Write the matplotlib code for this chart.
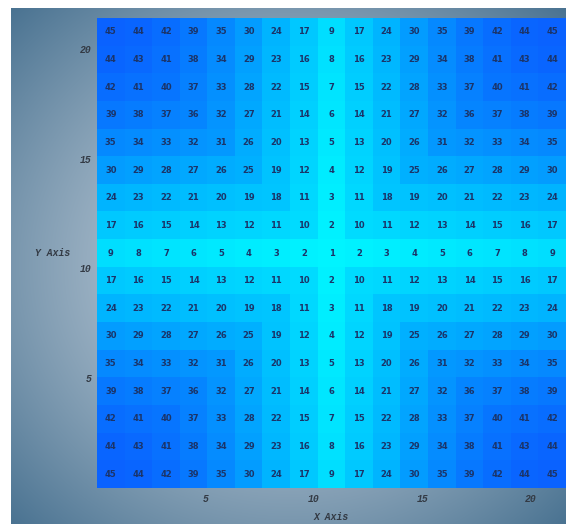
"""Heat map of a mirrored grid with the cell values written in each cell."""

import matplotlib.pyplot as plt
import numpy as np
from matplotlib.colors import LinearSegmentedColormap

# Rows listed top to bottom
grid_values = [
    [45, 44, 42, 39, 35, 30, 24, 17, 9, 17, 24, 30, 35, 39, 42, 44, 45],
    [44, 43, 41, 38, 34, 29, 23, 16, 8, 16, 23, 29, 34, 38, 41, 43, 44],
    [42, 41, 40, 37, 33, 28, 22, 15, 7, 15, 22, 28, 33, 37, 40, 41, 42],
    [39, 38, 37, 36, 32, 27, 21, 14, 6, 14, 21, 27, 32, 36, 37, 38, 39],
    [35, 34, 33, 32, 31, 26, 20, 13, 5, 13, 20, 26, 31, 32, 33, 34, 35],
    [30, 29, 28, 27, 26, 25, 19, 12, 4, 12, 19, 25, 26, 27, 28, 29, 30],
    [24, 23, 22, 21, 20, 19, 18, 11, 3, 11, 18, 19, 20, 21, 22, 23, 24],
    [17, 16, 15, 14, 13, 12, 11, 10, 2, 10, 11, 12, 13, 14, 15, 16, 17],
    [9, 8, 7, 6, 5, 4, 3, 2, 1, 2, 3, 4, 5, 6, 7, 8, 9],
    [17, 16, 15, 14, 13, 12, 11, 10, 2, 10, 11, 12, 13, 14, 15, 16, 17],
    [24, 23, 22, 21, 20, 19, 18, 11, 3, 11, 18, 19, 20, 21, 22, 23, 24],
    [30, 29, 28, 27, 26, 25, 19, 12, 4, 12, 19, 25, 26, 27, 28, 29, 30],
    [35, 34, 33, 32, 31, 26, 20, 13, 5, 13, 20, 26, 31, 32, 33, 34, 35],
    [39, 38, 37, 36, 32, 27, 21, 14, 6, 14, 21, 27, 32, 36, 37, 38, 39],
    [42, 41, 40, 37, 33, 28, 22, 15, 7, 15, 22, 28, 33, 37, 40, 41, 42],
    [44, 43, 41, 38, 34, 29, 23, 16, 8, 16, 23, 29, 34, 38, 41, 43, 44],
    [45, 44, 42, 39, 35, 30, 24, 17, 9, 17, 24, 30, 35, 39, 42, 44, 45],
]
x_ticks = [5, 10, 15, 20]
y_ticks = [5, 10, 15, 20]
x_range = (0, 21.6)
y_range = (0, 21.4)

W, H = 566, 524
fig = plt.figure(figsize=(W / 100, H / 100), dpi=100)
fig.patch.set_facecolor("white")

# radial grey-blue backdrop behind the plot
bg = fig.add_axes([11 / W, 0, 1 - 11 / W, 1 - 8 / H])
yy, xx = np.mgrid[-1:1:300j, -1:1:300j]
r = np.clip(np.sqrt(xx**2 + yy**2) / np.sqrt(2), 0, 1)
inner = np.array([0.80, 0.84, 0.88])
outer = np.array([0.29, 0.45, 0.57])
shade = inner + (outer - inner) * (r[..., None] ** 1.3)
bg.imshow(shade, aspect="auto", interpolation="bilinear")
bg.set_axis_off()

cmap = LinearSegmentedColormap.from_list(
    "cyan_blue", ["#00f4ff", "#00b8ff", "#0a62ff"]
)

ax = fig.add_axes([97 / W, 36 / H, 469 / W, 470 / H])
data = np.array(grid_values)
ax.imshow(
    data,
    cmap=cmap,
    extent=[x_range[0], x_range[1], y_range[0], y_range[1]],
    aspect="auto",
    interpolation="nearest",
    origin="upper",
)

n_rows, n_cols = data.shape
dx = (x_range[1] - x_range[0]) / n_cols
dy = (y_range[1] - y_range[0]) / n_rows
for i in range(n_rows):
    for j in range(n_cols):
        ax.text(
            x_range[0] + (j + 0.5) * dx,
            y_range[1] - (i + 0.5) * dy,
            str(data[i, j]),
            ha="center",
            va="center",
            fontsize=6,
            fontweight="bold",
            color="#1b3468",
        )

tick_font = dict(family="Liberation Mono", style="italic", size=7, weight="bold")
ax.set_xlim(*x_range)
ax.set_ylim(*y_range)
ax.set_xticks(x_ticks)
ax.set_yticks(y_ticks)
ax.set_xticklabels([str(t) for t in x_ticks], fontdict=tick_font, color="#333a44")
ax.set_yticklabels([str(t) for t in y_ticks], fontdict=tick_font, color="#333a44")
ax.tick_params(length=0, pad=4)
for spine in ax.spines.values():
    spine.set_visible(False)

ax.set_xlabel("X Axis", fontdict=tick_font, color="#333a44")
ax.xaxis.set_label_coords(0.499, -0.051)
ax.set_ylabel("Y Axis", fontdict=tick_font, color="#333a44", rotation=0)
ax.yaxis.set_label_coords(-0.094, 0.489)

fig.savefig("out.png", dpi=100)
